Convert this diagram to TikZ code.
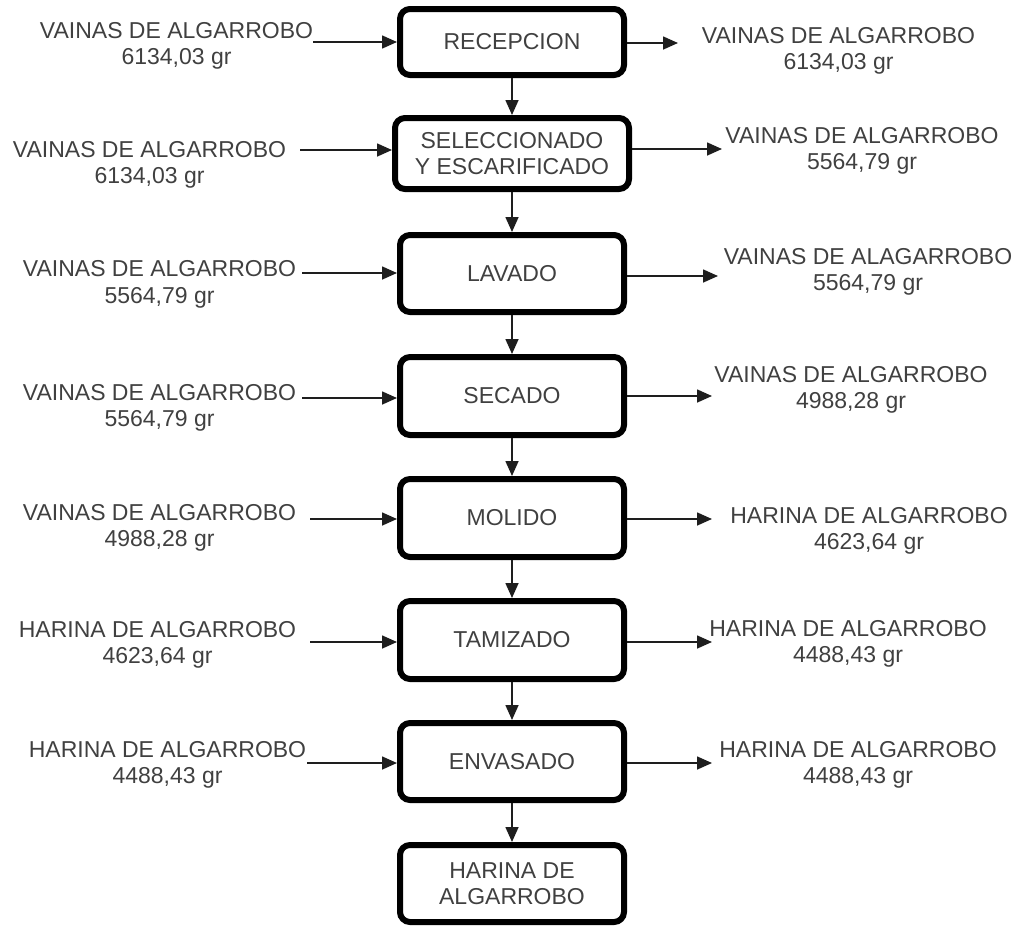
\documentclass[tikz,border=0pt]{standalone}
\usepackage{fontspec}
\setmainfont{Liberation Sans}
\usetikzlibrary{arrows.meta}
\definecolor{txt}{RGB}{64,64,64}
\definecolor{ln}{RGB}{30,30,30}
\begin{document}
\begin{tikzpicture}[x=1pt,y=-1pt,
  stepbox/.style={draw=black, line width=6pt, rounded corners=10pt, minimum width=224pt,
    inner sep=0pt, align=center, text=txt, font=\fontsize{23}{26.5}\selectfont},
  lbl/.style={align=center, inner sep=0pt, anchor=base, text=txt, font=\fontsize{23}{26.5}\selectfont},
  arr/.style={draw=ln, line width=1.6pt, -{Triangle[length=15pt,width=13pt]}}]
\useasboundingbox (0,0) rectangle (1020,927);

% process boxes
\node[stepbox, minimum height=66pt] (rec) at (512,42) {RECEPCION};
\node[stepbox, minimum width=234pt, minimum height=71pt] (sel) at (512,153.5) {SELECCIONADO\\Y ESCARIFICADO};
\node[stepbox, minimum height=77pt] (lav) at (512,273.5) {LAVADO};
\node[stepbox, minimum height=78pt] (sec) at (512,396) {SECADO};
\node[stepbox, minimum height=78pt] (mol) at (512,518) {MOLIDO};
\node[stepbox, minimum height=78pt] (tam) at (512,640) {TAMIZADO};
\node[stepbox, minimum height=77pt] (env) at (512,761.5) {ENVASADO};
\node[stepbox, minimum height=77pt] (har) at (512,883.5) {HARINA DE\\ALGARROBO};

% vertical flow
\draw[arr] (rec) -- (sel);
\draw[arr] (sel) -- (lav);
\draw[arr] (lav) -- (sec);
\draw[arr] (sec) -- (mol);
\draw[arr] (mol) -- (tam);
\draw[arr] (tam) -- (env);
\draw[arr] (env) -- (har);

% left labels (anchor = baseline of the second line)
\node[lbl] (l1) at (176.5,64.5) {VAINAS DE ALGARROBO\\6134,03 gr};
\node[lbl] (l2) at (149.5,183.5) {VAINAS DE ALGARROBO\\6134,03 gr};
\node[lbl] (l3) at (159.5,303) {VAINAS DE ALGARROBO\\5564,79 gr};
\node[lbl] (l4) at (159.5,426.5) {VAINAS DE ALGARROBO\\5564,79 gr};
\node[lbl] (l5) at (159.5,546.5) {VAINAS DE ALGARROBO\\4988,28 gr};
\node[lbl] (l6) at (157.5,663.5) {HARINA DE ALGARROBO\\4623,64 gr};
\node[lbl] (l7) at (167.5,783.5) {HARINA DE ALGARROBO\\4488,43 gr};

% right labels
\node[lbl] (r1) at (838.5,69.5) {VAINAS DE ALGARROBO\\6134,03 gr};
\node[lbl] (r2) at (862,169.5) {VAINAS DE ALGARROBO\\5564,79 gr};
\node[lbl] (r3) at (868,290.5) {VAINAS DE ALAGARROBO\\5564,79 gr};
\node[lbl] (r4) at (851,408.5) {VAINAS DE ALGARROBO\\4988,28 gr};
\node[lbl] (r5) at (869,549.5) {HARINA DE ALGARROBO\\4623,64 gr};
\node[lbl] (r6) at (848,662.5) {HARINA DE ALGARROBO\\4488,43 gr};
\node[lbl] (r7) at (858,783.5) {HARINA DE ALGARROBO\\4488,43 gr};

% arrow free ends
\coordinate (la1) at (313,42);
\coordinate (la2) at (300,150);
\coordinate (la3) at (302,273);
\coordinate (la4) at (302,398);
\coordinate (la5) at (310,519);
\coordinate (la6) at (310,642);
\coordinate (la7) at (307,763);
\coordinate (ra1) at (678,43);
\coordinate (ra2) at (722,149);
\coordinate (ra3) at (718,276);
\coordinate (ra4) at (712,396);
\coordinate (ra5) at (712,519);
\coordinate (ra6) at (712,642);
\coordinate (ra7) at (712,763);

% inputs
\draw[arr] (la1) -- (la1 -| rec.west);
\draw[arr] (la2) -- (la2 -| sel.west);
\draw[arr] (la3) -- (la3 -| lav.west);
\draw[arr] (la4) -- (la4 -| sec.west);
\draw[arr] (la5) -- (la5 -| mol.west);
\draw[arr] (la6) -- (la6 -| tam.west);
\draw[arr] (la7) -- (la7 -| env.west);

% outputs
\draw[arr] (rec.east |- ra1) -- (ra1);
\draw[arr] (sel.east |- ra2) -- (ra2);
\draw[arr] (lav.east |- ra3) -- (ra3);
\draw[arr] (sec.east |- ra4) -- (ra4);
\draw[arr] (mol.east |- ra5) -- (ra5);
\draw[arr] (tam.east |- ra6) -- (ra6);
\draw[arr] (env.east |- ra7) -- (ra7);
\end{tikzpicture}
\end{document}
